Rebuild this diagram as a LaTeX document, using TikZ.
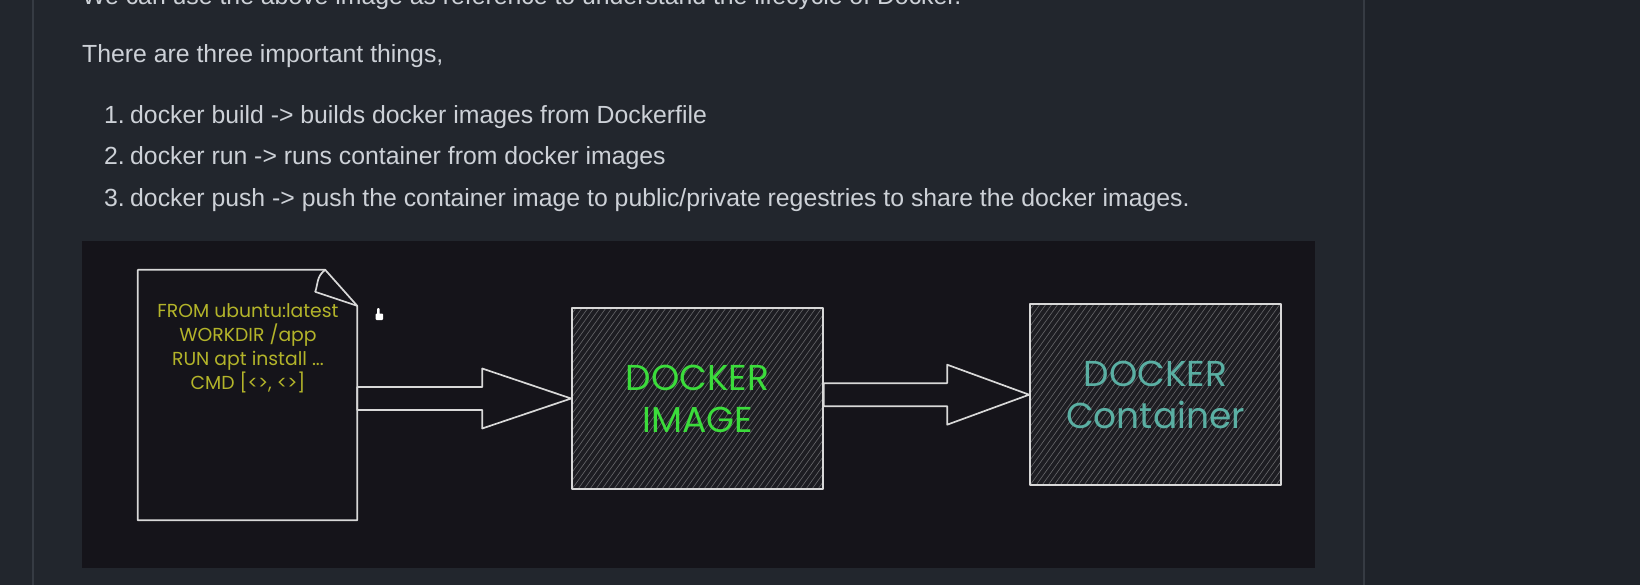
\documentclass[tikz,border=0pt]{standalone}
\usepackage{fontspec}
\setmainfont{Liberation Sans}
\newfontfamily\esboco{Poppins}
\usepackage{xcolor}
\usetikzlibrary{positioning,calc}

\definecolor{fundo}{HTML}{22262D}
\definecolor{fundodir}{HTML}{1F232A}
\definecolor{linha}{HTML}{363B43}
\definecolor{painel}{HTML}{15141A}
\definecolor{cinzatexto}{HTML}{CDD1D7}
\definecolor{contorno}{HTML}{D8D8D8}
\definecolor{preenchimento}{HTML}{1D1D22}
\definecolor{amarelo}{HTML}{B3B42A}
\definecolor{verde}{HTML}{3BDC3B}
\definecolor{turquesa}{HTML}{5AAFA3}

\begin{document}
\begin{tikzpicture}[x=1pt,y=-1pt,
  texto/.style={anchor=base west, inner sep=0pt, text=cinzatexto, font=\fontsize{24.8}{30}\selectfont},
  traco/.style={draw=contorno, line width=1.7pt, line join=round},
  caixa/.style={traco, fill=preenchimento, minimum width=251pt, minimum height=181pt,
    align=center, font=\esboco\fontsize{36}{42}\selectfont,
    path picture={
      \foreach \k in {-132,-126,...,260}
        \draw[white, opacity=0.33, line width=0.6pt]
          ($(path picture bounding box.south west)+(\k,0)$) -- ++(140,-195);
    }},
  codigo/.style={align=center, text=amarelo, font=\esboco\fontsize{18.8}{24}\selectfont}
]
\useasboundingbox (0,0) rectangle (1640,585);
\clip (0,0) rectangle (1640,585);

% Fundo da pagina
\fill[fundo] (0,0) rectangle (1640,585);
\fill[fundodir] (1364,0) rectangle (1640,585);
\draw[linha, line width=1.2pt] (33,0) -- (33,585);
\draw[linha, line width=1.2pt] (1364,0) -- (1364,585);

% Texto acima da figura
\node[texto] (t0) at (82,5) {We can use the above image as reference to understand the lifecycle of Docker.};
\node[texto] (t1) at (82,63) {There are three important things,};
\node[texto] (l1) at (104,123.5) {\makebox[26pt][l]{1.}docker build -> builds docker images from Dockerfile};
\node[texto] (l2) at (104,165) {\makebox[26pt][l]{2.}docker run -> runs container from docker images};
\node[texto] (l3) at (104,207) {\makebox[26pt][l]{3.}docker push -> push the container image to public/private regestries to share the docker images.};

% Painel da figura
\fill[painel] (82,241) rectangle (1315,568);

% Dockerfile (folha com canto dobrado)
\node[minimum width=219pt, minimum height=250pt, inner sep=0pt] (dockerfile) at (247.5,395) {};
\draw[traco] (dockerfile.south west) -- (dockerfile.north west)
  -- ([xshift=-32pt]dockerfile.north east)
  -- ([yshift=-36pt]dockerfile.north east) -- (dockerfile.south east) -- cycle;
\draw[traco] ([xshift=-32pt]dockerfile.north east) .. controls +(-9,7) and +(3,-8) .. ([xshift=-42pt,yshift=-22pt]dockerfile.north east)
  -- ([yshift=-36pt]dockerfile.north east);
\node[codigo] (code) at (248,348) {FROM ubuntu:latest\\WORKDIR /app\\RUN apt install ...\\CMD [<>, <>]};

% Caixas
\node[caixa, text=verde] (image) at (697.5,398.5) {DOCKER\\IMAGE};
\node[caixa, text=turquesa] (container) at (1155.5,394.7) {DOCKER\\Container};

% Setas largas
\draw[traco] (image.west) -- ++(-89,-30) -- ++(0,18.5) coordinate (a1)
  -- (a1 -| dockerfile.east) -- ++(0,23) coordinate (a2) -- (a2 -| a1) -- ++(0,18.5) -- cycle;
\draw[traco] (container.west) -- ++(-82,-30) -- ++(0,18.5) coordinate (b1)
  -- (b1 -| image.east) -- ++(0,23) coordinate (b2) -- (b2 -| b1) -- ++(0,18.5) -- cycle;

% Cursor do mouse
\fill[white, rounded corners=1pt] (377,308) rectangle (379.6,315) (375.5,313.5) rectangle (383,320);

\end{tikzpicture}
\end{document}
